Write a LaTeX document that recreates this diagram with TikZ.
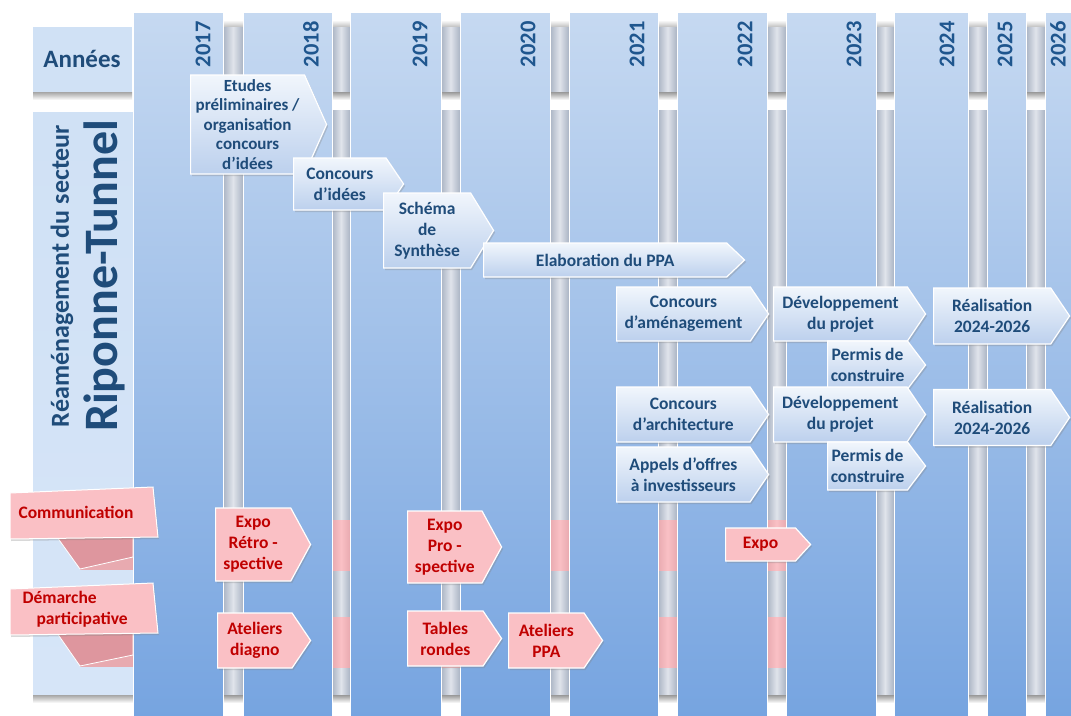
\documentclass[tikz,border=0pt]{standalone}
\usepackage{fontspec}
\setmainfont{Carlito}
\usetikzlibrary{shapes.symbols,shadows}

\definecolor{colTop}{RGB}{198,217,241}
\definecolor{colBot}{RGB}{118,164,224}
\definecolor{cellBlue}{RGB}{208,225,245}
\definecolor{rodDark}{RGB}{170,180,196}
\definecolor{rodLight}{RGB}{224,228,235}
\definecolor{flagTop}{RGB}{241,246,252}
\definecolor{flagBot}{RGB}{188,208,237}
\definecolor{navy}{RGB}{31,76,122}
\definecolor{yearBlue}{RGB}{31,86,142}
\definecolor{rose}{RGB}{250,192,197}
\definecolor{roseDark}{RGB}{222,150,158}
\definecolor{roseBand}{RGB}{232,170,176}
\definecolor{crimson}{RGB}{192,0,0}

\tikzset{
  flag/.style={signal, signal to=east, signal from=nowhere,
    signal pointer angle=112, draw=white, line width=1.2pt, inner sep=1pt,
    align=center, font=\fontsize{17.5}{21}\selectfont\bfseries,
    drop shadow={shadow xshift=1.5pt, shadow yshift=-2pt, opacity=0.3}},
  blueflag/.style={flag, top color=flagTop, bottom color=flagBot, text=navy},
  pinkflag/.style={flag, fill=rose, text=crimson},
  year/.style={rotate=90, anchor=east, text=yearBlue,
    font=\fontsize{22.5}{25}\selectfont\bfseries},
  ribbon/.style={fill=rose, draw=white, line width=1pt,
    drop shadow={shadow xshift=1pt, shadow yshift=-2pt, opacity=0.3}},
  ribbontext/.style={text=crimson, font=\fontsize{17.5}{21}\selectfont\bfseries},
}

\begin{document}
\begin{tikzpicture}[x=1pt, y=-1pt]
  \useasboundingbox (0,0) rectangle (1071,715);
  \clip (0,0) rectangle (1071,715);
  \fill[white] (0,0) rectangle (1071,715);

  % left header cells
  \fill[cellBlue] (33,27) rectangle (132,92);
  \shade[top color=black!35, bottom color=white] (33,92) rectangle (132,100);
  \shade[top color=cellBlue, bottom color={rgb,255:red,214;green,229;blue,248}] (33,112) rectangle (133,695);
  \shade[top color=black!35, bottom color=white] (33,695) rectangle (133,703);

  % rods between the year columns
  \foreach \a/\b in {223/243, 332/350, 441/460, 550/569, 658/677,
                     767/786, 876/894, 968/987, 1026/1045}{
    \shade[top color=white, bottom color=black!25] (\a,20) rectangle (\b,27);
    \shade[left color=rodDark, right color=rodDark, middle color=rodLight] (\a,27) rectangle (\b,92);
    \shade[top color=black!40, bottom color=white] (\a,92) rectangle (\b,100);
    \shade[left color=rodDark, right color=rodDark, middle color=rodLight] (\a,110) rectangle (\b,695);
    \shade[top color=black!40, bottom color=white] (\a,695) rectangle (\b,703);
    \ifnum\b<790
      \shade[left color=roseBand, right color=roseBand, middle color=rose] (\a,520) rectangle (\b,570);
      \shade[left color=roseBand, right color=roseBand, middle color=rose] (\a,617) rectangle (\b,667);
    \fi
  }
  \fill[roseBand] (80,520) rectangle (133,570);
  \fill[roseBand] (80,617) rectangle (133,667);

  % year columns
  \foreach \l/\r/\t/\y in {133/223/203/2017, 243/332/311/2018, 350/441/420/2019,
                           460/550/528/2020, 569/658/637/2021, 677/767/745/2022,
                           786/876/854/2023, 894/968/947/2024, 987/1026/1005/2025,
                           1045/1100/1058/2026}{
    \path[top color=colTop, bottom color=colBot, draw=white, line width=0.8pt] (\l,12) rectangle (\r,718);
    \node[year] (y\y) at (\t,18) {\y};
  }

  % row titles
  \node[text=navy, font=\fontsize{25}{27}\selectfont\bfseries] (annees) at (82,59) {Années};
  \node[rotate=90, text=navy, font=\fontsize{26}{28}\selectfont\bfseries] (secteur) at (62,276) {Réaménagement du secteur};
  \node[rotate=90, text=navy, font=\fontsize{48}{50}\selectfont\bfseries] (riponne) at (104,276) {Riponne-Tunnel};

  % communication ribbons
  \fill[roseDark, draw=white, line width=0.8pt] (57,537) -- (80,569) -- (133,557) -- (133,537) -- cycle;
  \path[ribbon] (10,493) -- (153,487) -- (158,537) -- (10,539) -- cycle;
  \node[ribbontext] (comm) at (76,512) {Communication};
  \fill[roseDark, draw=white, line width=0.8pt] (57,633) -- (80,666) -- (133,655) -- (133,633) -- cycle;
  \path[ribbon] (10,589) -- (153,583) -- (158,633) -- (10,635) -- cycle;
  \node[ribbontext, align=left, anchor=west] (demarche) at (19,609) {Démarche\\\hspace*{14pt}participative};

  % project phases
  \node[blueflag, minimum width=136pt, minimum height=99pt, signal pointer angle=132, anchor=west,
        font=\fontsize{17}{19.5}\selectfont\bfseries] (etudes) at (190,124.5)
       {Etudes\\préliminaires /\\organisation\\concours\\d’idées};
  \node[blueflag, minimum width=110pt, minimum height=52pt, anchor=west] (idees) at (293,184) {Concours\\d’idées};
  \node[blueflag, minimum width=110pt, minimum height=75pt, signal pointer angle=117, anchor=west] (schema) at (383,230.5) {Schéma\\de\\Synthèse};
  \node[blueflag, minimum width=261pt, minimum height=34pt, signal pointer angle=87, anchor=west] (ppa) at (483,260) {Elaboration du PPA};
  \node[blueflag, minimum width=152pt, minimum height=54pt, anchor=west] (amenag) at (616,314) {Concours\\d’aménagement};
  \node[blueflag, minimum width=152pt, minimum height=54pt, anchor=west] (devA) at (773,314) {Développement\\du projet};
  \node[blueflag, minimum width=98pt, minimum height=48pt, signal pointer angle=106, anchor=west] (permisA) at (827,365) {Permis de\\construire};
  \node[blueflag, minimum width=136pt, minimum height=56pt, anchor=west] (realA) at (933,316) {Réalisation\\2024-2026};
  \node[blueflag, minimum width=152pt, minimum height=55pt, anchor=west] (archi) at (616,414.5) {Concours\\d’architecture};
  \node[blueflag, minimum width=152pt, minimum height=55pt, anchor=west] (devB) at (773,414.5) {Développement\\du projet};
  \node[blueflag, minimum width=98pt, minimum height=48pt, signal pointer angle=106, anchor=west] (permisB) at (827,466) {Permis de\\construire};
  \node[blueflag, minimum width=136pt, minimum height=56pt, anchor=west] (realB) at (933,417.5) {Réalisation\\2024-2026};
  \node[blueflag, minimum width=152pt, minimum height=55pt, anchor=west] (appels) at (616,474.5) {Appels d’offres\\à investisseurs};

  % communication and participation events
  \node[pinkflag, minimum width=95pt, minimum height=73pt, signal pointer angle=123, anchor=west] (expoRetro) at (215,544.5) {Expo\\Rétro -\\spective};
  \node[pinkflag, minimum width=93pt, minimum height=55pt, anchor=west] (ateliersDiag) at (217,640.5) {Ateliers\\diagno};
  \node[pinkflag, minimum width=94pt, minimum height=72pt, signal pointer angle=123, anchor=west] (expoPro) at (407,547) {Expo\\Pro -\\spective};
  \node[pinkflag, minimum width=94pt, minimum height=55pt, anchor=west] (tables) at (407,638.5) {Tables\\rondes};
  \node[pinkflag, minimum width=94pt, minimum height=55pt, anchor=west] (ateliersPPA) at (508,640.5) {Ateliers\\PPA};
  \node[pinkflag, minimum width=85pt, minimum height=33pt, signal pointer angle=95, anchor=west] (expoFin) at (725,544.5) {Expo};
\end{tikzpicture}
\end{document}
